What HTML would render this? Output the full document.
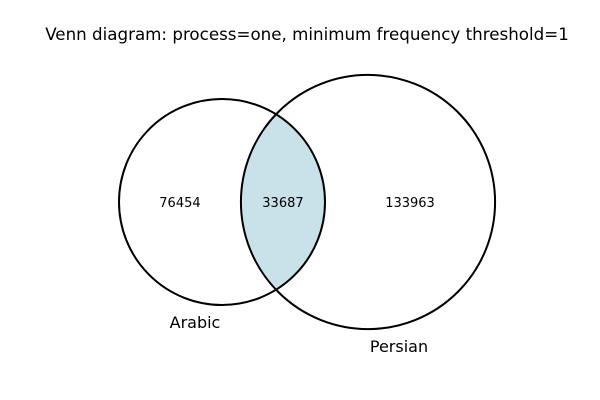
<!DOCTYPE html>
<html><head><meta charset="utf-8"><style>
html,body{margin:0;padding:0;background:#fff;}
svg{display:block;font-family:"DejaVu Sans","Liberation Sans",sans-serif;}
</style></head><body>
<svg id="chart" width="600" height="400" viewBox="0 0 600 400">
<text x="307" y="40" text-anchor="middle" font-size="16.7">Venn diagram: process=one, minimum frequency threshold=1</text>
<g id="g"></g>
</svg>
<script>
const setNames = ["Arabic", "Persian"];
const onlyCounts = [76454, 133963];
const overlapCount = [33687];

const svgNS = "http://www.w3.org/2000/svg";
const g = document.getElementById("g");
const k = 103 / Math.sqrt(110141);
const rA = k * Math.sqrt(onlyCounts[0] + overlapCount[0]);
const rB = k * Math.sqrt(onlyCounts[1] + overlapCount[0]);
const cy = 202, cxA = 222, cxB = 368;
const d = cxB - cxA;
const a = (d*d + rA*rA - rB*rB) / (2*d);
const h = Math.sqrt(Math.max(0, rA*rA - a*a));
const ix = cxA + a;
function el(tag, attrs){const e=document.createElementNS(svgNS,tag);for(const k in attrs)e.setAttribute(k,attrs[k]);g.appendChild(e);return e;}
const inter = el("path",{d:`M${ix},${cy-h} A${rA},${rA} 0 0 1 ${ix},${cy+h} A${rB},${rB} 0 0 1 ${ix},${cy-h} Z`,fill:"#c9e2e9",stroke:"none"});


const cA = el("circle",{cx:cxA,cy:cy,r:rA,fill:"none",stroke:"#000","stroke-width":2});


const cB = el("circle",{cx:cxB,cy:cy,r:rB,fill:"none",stroke:"#000","stroke-width":2});


const lx = [((cxA-rA)+(cxB-rB))/2, ((cxB-rB)+(cxA+rA))/2, ((cxA+rA)+(cxB+rB))/2];
const vals = [onlyCounts[0], overlapCount[0], onlyCounts[1]];
const names = ['arabic-only-count','overlap-count','persian-only-count'];
vals.forEach((v,i)=>{
  const t = el("text",{x:lx[i],y:cy+5,"text-anchor":"middle","font-size":13});
  t.textContent = v;
  
  
});
const tA = el("text",{x:195,y:cy+rA+23,"text-anchor":"middle","font-size":16});
tA.textContent = setNames[0];


const tB = el("text",{x:399,y:cy+rB+23,"text-anchor":"middle","font-size":16});
tB.textContent = setNames[1];


</script>
</body></html>
